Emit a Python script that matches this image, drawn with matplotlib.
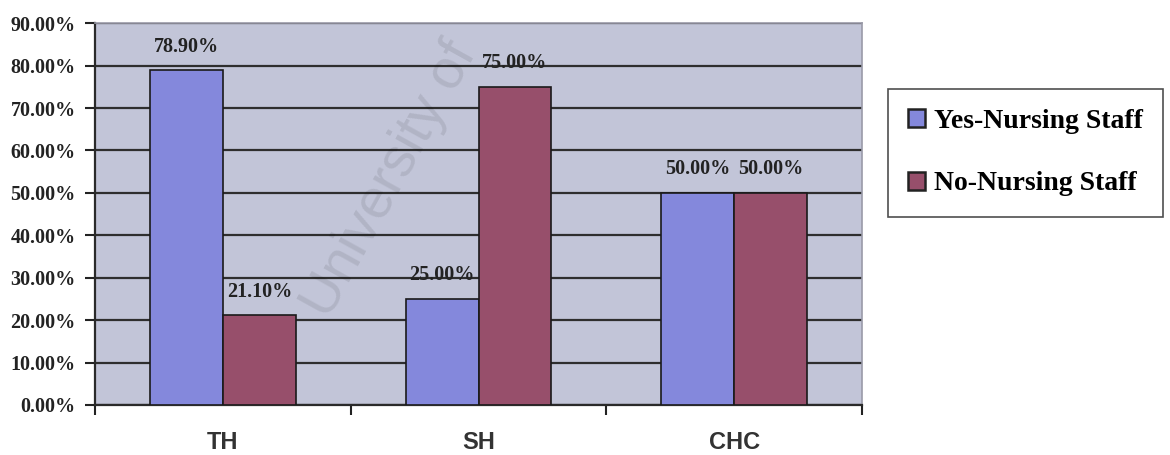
import matplotlib.pyplot as plt
import numpy as np

# survey results: share of facilities with / without nursing staff
categories = ["TH", "SH", "CHC"]
yes_nursing = [78.90, 25.00, 50.00]
no_nursing = [21.10, 75.00, 50.00]
series_names = ["Yes-Nursing Staff", "No-Nursing Staff"]
y_ticks = [0, 10, 20, 30, 40, 50, 60, 70, 80, 90]

serif = "Liberation Serif"
sans = "Liberation Sans"

fig = plt.figure(figsize=(11.7, 4.55), dpi=100)
ax = fig.add_axes([0.0812, 0.11, 0.6556, 0.839])
ax.set_facecolor("#c2c5d8")

x = np.arange(len(categories))
width = 0.285
colors = ["#8488dc", "#974f6b"]

for i, (vals, name) in enumerate(zip([yes_nursing, no_nursing], series_names)):
    pos = x + (i - 0.5) * width
    ax.bar(pos, vals, width, color=colors[i], edgecolor="#1a1a1a",
           linewidth=1.2, label=name, zorder=3)
    for px, v in zip(pos, vals):
        ax.annotate(f"{v:.2f}%", (px, v), xytext=(0, 17), textcoords="offset points",
                    ha="center", va="center", fontsize=14.5, fontweight="bold",
                    family=serif, color="#222222", zorder=5)

ax.set_xlim(-0.5, len(categories) - 0.5)
ax.set_ylim(0, 90)
ax.set_yticks(y_ticks)
ax.set_yticklabels([f"{t:.2f}%" for t in y_ticks], fontsize=14.5,
                   fontweight="bold", family=serif, color="#222222")
ax.yaxis.grid(True, color="#2e2e2e", linewidth=1.6, zorder=1)
ax.set_axisbelow(True)

# category ticks sit between groups
ax.set_xticks(np.arange(len(categories) + 1) - 0.5)
ax.set_xticklabels([])
ax.set_xticks(x, minor=True)
ax.set_xticklabels(categories, minor=True, fontsize=17, fontweight="bold",
                   family=sans, color="#333333")
ax.tick_params(axis="x", which="minor", length=0, pad=19)
ax.tick_params(axis="x", which="major", length=7, width=1.5, direction="out",
               color="#222222")
ax.tick_params(axis="y", length=7, width=1.5, color="#222222", pad=7)

for side in ["top", "right"]:
    ax.spines[side].set_color("#9a9aa8")
    ax.spines[side].set_linewidth(1.2)
ax.spines["left"].set_color("#2a2a2a")
ax.spines["left"].set_linewidth(1.6)
ax.spines["bottom"].set_color("#2a2a2a")
ax.spines["bottom"].set_linewidth(1.6)

leg = fig.legend(loc="upper left", bbox_to_anchor=(888 / 1170, 1 - 89 / 455),
                 prop={"family": serif, "weight": "bold", "size": 20},
                 frameon=True, fancybox=False, edgecolor="#222222",
                 handlelength=0.6, handleheight=0.6, handletextpad=0.35,
                 labelspacing=1.35, borderpad=0.72, borderaxespad=0)
leg.get_frame().set_linewidth(1.2)
for h in leg.legend_handles:
    h.set_edgecolor("#222222")
    h.set_linewidth(1.8)

# faint diagonal watermark
fig.text(390 / 1170, 1 - 180 / 455, "University of", fontsize=40, family=sans,
         rotation=61, ha="center", va="center", color="#000000", alpha=0.09,
         zorder=10)

fig.savefig("out.png", dpi=100)
